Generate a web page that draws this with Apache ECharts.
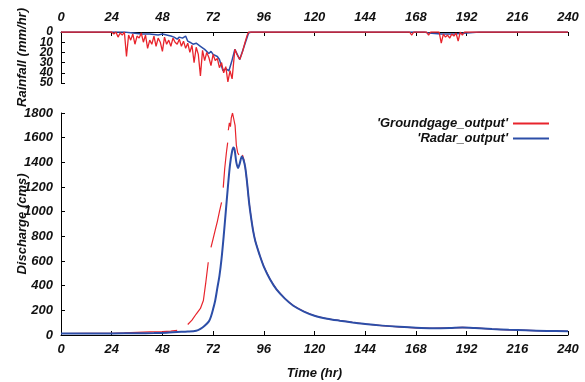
<!DOCTYPE html>
<html><head><meta charset="utf-8">
<script src="https://cdn.jsdelivr.net/npm/echarts@6/dist/echarts.min.js"></script>
<style>html,body{margin:0;padding:0;background:#fff}#c{width:585px;height:382px}</style>
</head><body><div id="c"></div>
<script>
// ---- data ----
const timeTicks = [0,24,48,72,96,120,144,168,192,216,240];
const rainTicks = [0,10,20,30,40,50];
const dischargeTicks = [0,200,400,600,800,1000,1200,1400,1600,1800];

// Rainfall (mm/hr) - groundgage
const rainGaugeT = [0,24,25,26,27,28,29,30,31,32,33,34,35,36,37,38,39,40,41,42,43,44,45,46,47,48,49,50,51,52,53,54,55,56,57,58,59,60,61,62,63,64,65,66,67,68,69,70,71,72,73,74,75,76,77,78,79,80,81,82.3,83.3,84.6,86,87,88,88.8,90,165,166,167,173,174,175,179,180,181,182,183,184,185,186,187,188,189,190,191,192,240];
const rainGaugeV = [0,0,2,0,5,1,3,0,24,3,8,2,12,4,6,1,10,3,16,8,12,4,14,6,10,19,5,12,8,14,6,10,12,7,14,9,16,11,20,13,30,15,22,43,18,28,20,25,33,22,28,26,35,30,40,34,49,38,46,17,22,27,19,11,4,0,0,0,3,0,0,3,0,0,11,2,5,3,6,2,4,1,9,0,3,0,0,0];
// Rainfall (mm/hr) - radar
const rainRadarT = [0,30,34,38,42,46,48,50,52,53.5,55,56,57.5,59,60,61,62.5,64,66,68,70,71,72,74,75,76.7,78,79.5,80.8,82.3,84.6,88.8,90,172,174,180,186,192,198,240];
const rainRadarV = [0,0,1,2,2,3,2,3,4,5,7,5,6,4,9,10,12,11,14,17,21,19,22,24,27,38,36,38,29,17,27,1,0,0,1,2,2,1,0,0];

// Discharge (cms) - groundgage (null = gap in record)
const qGaugeT = [0,12,24,30,36,42,48,52,55,57,60,62,64,66,67.4,68.5,69.7,70.3,71,72,73,74,75,76,76.4,76.8,77.5,78.3,78.9,79.05,79.2,79.7,80.2,80.6,81.2,81.8,82.4,83,83.6,84.2,85,85.9,86.6,87.2,88,89,90,91,92,94,96,99,102,106,110,115,120,126,132,138,144,152,160,168,176,184,190,196,204,212,220,230,240];
const qGaugeV = [12,13,14,17,21,25,28,32,38,null,85,120,170,215,280,420,590,null,710,780,850,920,1000,1075,null,1195,1350,1480,1560,null,1660,1720,1690,1760,1800,1790,1700,1540,1480,1460,null,1460,1420,1360,1250,1080,950,840,760,650,555,450,370,295,237,190,156,132,116,102,89,76,66,58,54,57,62,57,48,42,38,33,30];
// Discharge (cms) - radar
const qRadarT = [0,12,24,36,44,50,55,60,64,66,68,70,71,72,73,74,75,76,77,78,79,80,81,81.6,82.2,83,83.8,84.6,85.6,86.4,87.2,88,89,90,91,92,94,96,99,102,106,110,115,120,126,132,138,144,152,160,168,176,184,190,196,204,212,220,230,240];
const qRadarV = [12,12,13,14,16,19,24,28,35,50,75,110,150,210,280,380,480,620,800,1000,1200,1380,1490,1520,1500,1400,1355,1390,1447,1420,1360,1250,1080,950,840,760,650,555,450,370,295,237,190,156,132,116,102,89,76,66,58,54,56,60,56,48,42,38,33,30];

const pairs = (t, v) => t.map((x, i) => [x, v[i] === null ? '-' : v[i]]);

const RED = '#e8242c', BLUE = '#2c4ea8';
const font = {fontFamily:'Liberation Sans, Arial, sans-serif', fontWeight:'bold', fontStyle:'italic', color:'#111'};
const axLine = {show:true, lineStyle:{color:'#000', width:1}};
const lbl = (size, margin) => Object.assign({fontSize:size, margin:margin, hideOverlap:false,
  showMinLabel:true, showMaxLabel:true, formatter:(v) => String(v)}, font);
// rainfall labels split over two coincident axes so the tight stack is not thinned out
const rainEven = rainTicks.filter((v, i) => i % 2 === 0);
const rainOdd = rainTicks.filter((v, i) => i % 2 === 1);

const chart = echarts.init(document.getElementById('c'), null, {renderer:'canvas'});
chart.setOption({
  animation:false,
  backgroundColor:'#fff',
  grid:[
    {left:61, top:32, width:507, height:51, containLabel:false, outerBoundsMode:'none'},
    {left:61, top:113, width:507, height:222, containLabel:false, outerBoundsMode:'none'}
  ],
  legend:{
    orient:'vertical', right:31, top:112, align:'right', itemWidth:36, itemHeight:2, itemGap:2,
    icon:'rect', itemTextGap:7,
    textStyle:Object.assign({fontSize:13}, font),
    data:['\'Groundgage_output\'','\'Radar_output\'']
  },
  xAxis:[
    {gridIndex:0, type:'value', position:'top', min:0, max:240, interval:24,
     axisLine:axLine, axisTick:{inside:true, length:4, lineStyle:{color:'#000'}},
     axisLabel:lbl(13, 8), splitLine:{show:false}},
    {gridIndex:1, type:'value', position:'bottom', min:0, max:240, interval:24,
     axisLine:axLine, axisTick:{inside:true, length:4, lineStyle:{color:'#000'}},
     axisLabel:lbl(13, 8), splitLine:{show:false},
     name:'Time (hr)', nameLocation:'middle', nameGap:32, nameTextStyle:Object.assign({fontSize:13}, font)}
  ],
  yAxis:[
    {gridIndex:0, type:'value', inverse:true, min:0, max:50, interval:10, position:'left',
     axisLine:axLine,
     axisTick:{inside:true, length:4, lineStyle:{color:'#000'}, customValues:rainTicks},
     axisLabel:Object.assign(lbl(12, 8), {customValues:rainEven}), splitLine:{show:false},
     name:'Rainfall (mm/hr)', nameLocation:'middle', nameGap:32, nameRotate:90, nameMoveOverlap:false,
     nameTextStyle:Object.assign({fontSize:13}, font)},
    {gridIndex:1, type:'value', min:0, max:1800, interval:200,
     axisLine:axLine, axisTick:{inside:true, length:4, lineStyle:{color:'#000'}},
     axisLabel:lbl(13, 8), splitLine:{show:false},
     name:'Discharge (cms)', nameLocation:'middle', nameGap:32, nameRotate:90, nameMoveOverlap:false,
     nameTextStyle:Object.assign({fontSize:13}, font)},
    {gridIndex:0, type:'value', inverse:true, min:0, max:50, interval:10, position:'left', offset:0,
     axisLine:{show:false}, axisTick:{show:false},
     axisLabel:Object.assign(lbl(12, 8), {customValues:rainOdd}), splitLine:{show:false}}
  ],
  series:[
    {name:'\'Radar_output\'', type:'line', xAxisIndex:0, yAxisIndex:0, data:pairs(rainRadarT, rainRadarV),
     symbol:'none', lineStyle:{color:BLUE, width:1.5}, itemStyle:{color:BLUE}, z:2},
    {name:'\'Groundgage_output\'', type:'line', xAxisIndex:0, yAxisIndex:0, data:pairs(rainGaugeT, rainGaugeV),
     symbol:'none', lineStyle:{color:RED, width:1.3}, itemStyle:{color:RED}, z:3},
    {name:'\'Groundgage_output\'', type:'line', xAxisIndex:1, yAxisIndex:1, data:pairs(qGaugeT, qGaugeV),
     symbol:'none', connectNulls:false, lineStyle:{color:RED, width:1.2}, itemStyle:{color:RED}, z:2},
    {name:'\'Radar_output\'', type:'line', xAxisIndex:1, yAxisIndex:1, data:pairs(qRadarT, qRadarV),
     symbol:'none', smooth:0.3, lineStyle:{color:BLUE, width:2}, itemStyle:{color:BLUE}, z:3}
  ]
});
</script></body></html>
